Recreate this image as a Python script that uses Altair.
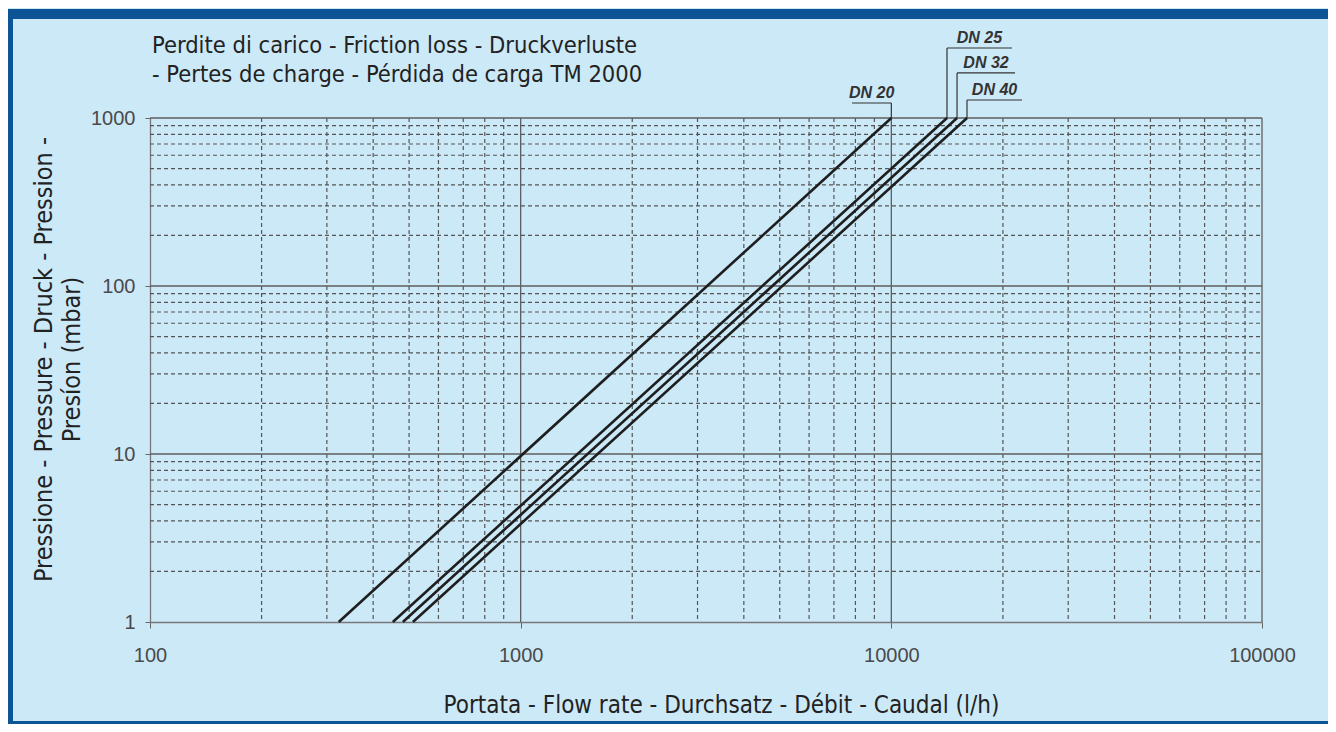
import altair as alt
import pandas as pd

# ---------------- data ----------------
series = ["DN 20", "DN 25", "DN 32", "DN 40"]
flow_start = [323, 452, 481, 512]          # l/h at 1 mbar
flow_end = [10000, 14130, 15040, 16000]    # l/h at 1000 mbar
press_start = [1, 1, 1, 1]
press_end = [1000, 1000, 1000, 1000]

label_left = [7834, 14130, 15040, 16000]
label_right = [10000, 21160, 21560, 22520]
label_y = [1228, 2610, 1854, 1280]

x_ticks = [100, 1000, 10000, 100000]
y_ticks = [1, 10, 100, 1000]
x_minor = [200, 300, 400, 500, 600, 700, 800, 900,
           2000, 3000, 4000, 5000, 6000, 7000, 8000, 9000,
           20000, 30000, 40000, 50000, 60000, 70000, 80000, 90000]
y_minor = [2, 3, 4, 5, 6, 7, 8, 9, 20, 30, 40, 50, 60, 70, 80, 90,
           200, 300, 400, 500, 600, 700, 800, 900]
x_major = [1000, 10000, 100000]
y_major = [10, 100, 1000]

title_lines = ["Perdite di carico - Friction loss - Druckverluste",
               "- Pertes de charge - Pérdida de carga TM 2000"]
x_title = "Portata - Flow rate - Durchsatz - Débit - Caudal (l/h)"
y_title = ["Pressione - Pressure - Druck - Pression -", "Presíon (mbar)"]

# ---------------- tables ----------------
rows = []
for s, f0, f1, p0, p1 in zip(series, flow_start, flow_end, press_start, press_end):
    rows.append({"series": s, "flow": f0, "pressure": p0})
    rows.append({"series": s, "flow": f1, "pressure": p1})
lines_df = pd.DataFrame(rows)

labels_df = pd.DataFrame({
    "series": series, "end": flow_end, "top": press_end,
    "left": label_left, "right": label_right, "ly": label_y,
})

W, H = 1112, 504
PAD_L, PAD_T, PAD_R, PAD_B = 142, 110, 66, 102

COND = "DejaVu Sans Condensed, Liberation Sans Narrow, sans-serif"
SANS = "Liberation Sans, Arial, Helvetica, sans-serif"
BG = "#cce9f8"
BLUE = "#0d5496"

xs = alt.Scale(type="log", domain=[100, 100000], nice=False)
ys = alt.Scale(type="log", domain=[1, 1000], nice=False)

x_axis = alt.Axis(
    values=x_ticks, format="d", grid=False, tickSize=6, tickColor="#666",
    domainColor="#777", domainWidth=1.3, labelFontSize=20, labelFont=SANS,
    labelColor="#4a4a4a", labelPadding=17, labelFlush=False,
    title=x_title, titleFont=COND, titleFontSize=24, titleFontWeight="normal",
    titleColor="#222", titleX=571, titleY=83, titleBaseline="middle",
    titleAlign="center")
y_axis = alt.Axis(
    values=y_ticks, format="d", grid=False, tickSize=5, tickColor="#666",
    domainColor="#777", domainWidth=1.3, labelFontSize=20, labelFont=SANS,
    labelColor="#4a4a4a", labelPadding=10, labelFlush=False,
    title=y_title, titleFont=COND, titleFontSize=25, titleFontWeight="normal",
    titleColor="#222", titleX=-107, titleY=241, titleBaseline="middle",
    titleAlign="center", titleLineHeight=28, titleAngle=270)

grid_minor_x = alt.Chart(pd.DataFrame({"v": x_minor})).mark_rule(
    color="#555", strokeDash=[4, 3], strokeWidth=1.2
).encode(x=alt.X("v:Q", scale=xs, axis=x_axis), y=alt.value(0), y2=alt.value(H))

grid_minor_y = alt.Chart(pd.DataFrame({"v": y_minor})).mark_rule(
    color="#555", strokeDash=[4, 3], strokeWidth=1.2
).encode(y=alt.Y("v:Q", scale=ys, axis=y_axis), x=alt.value(0), x2=alt.value(W))

grid_major_x = alt.Chart(pd.DataFrame({"v": x_major})).mark_rule(
    color="#5e5e5e", strokeWidth=1.3
).encode(x=alt.X("v:Q", scale=xs, axis=x_axis), y=alt.value(0), y2=alt.value(H))

grid_major_y = alt.Chart(pd.DataFrame({"v": y_major})).mark_rule(
    color="#5e5e5e", strokeWidth=1.3
).encode(y=alt.Y("v:Q", scale=ys, axis=y_axis), x=alt.value(0), x2=alt.value(W))

lines = alt.Chart(lines_df).mark_line(color="#1e1e1e", strokeWidth=2.6).encode(
    x=alt.X("flow:Q", scale=xs, axis=x_axis),
    y=alt.Y("pressure:Q", scale=ys, axis=y_axis),
    detail="series:N",
)

leader_v = alt.Chart(labels_df).mark_rule(color="#333", strokeWidth=1.2).encode(
    x=alt.X("end:Q", scale=xs, axis=x_axis),
    y=alt.Y("top:Q", scale=ys, axis=y_axis),
    y2="ly:Q",
)
leader_h = alt.Chart(labels_df).mark_rule(color="#333", strokeWidth=1.2).encode(
    x=alt.X("left:Q", scale=xs, axis=x_axis),
    x2="right:Q",
    y=alt.Y("ly:Q", scale=ys, axis=y_axis),
)
label_text = alt.Chart(labels_df).transform_calculate(
    cx="sqrt(datum.left * datum.right)"
).mark_text(
    font=SANS, fontSize=16, fontStyle="italic", fontWeight="bold",
    color="#333", baseline="bottom", align="center", dy=-2
).encode(
    x=alt.X("cx:Q", scale=xs, axis=x_axis),
    y=alt.Y("ly:Q", scale=ys, axis=y_axis),
    text="series:N",
)

title_text = alt.Chart(pd.DataFrame({"t": [0]})).mark_text(
    text=title_lines, font=COND, fontSize=23.5, lineHeight=29, color="#222",
    align="left", baseline="top"
).encode(x=alt.value(2), y=alt.value(-84))

frame_top = alt.Chart(pd.DataFrame({"t": [0]})).mark_rect(color=BLUE).encode(
    x=alt.value(-PAD_L), x2=alt.value(W + PAD_R), y=alt.value(-PAD_T + 1), y2=alt.value(-PAD_T + 11)
)
frame_left = alt.Chart(pd.DataFrame({"t": [0]})).mark_rect(color=BLUE).encode(
    x=alt.value(-PAD_L), x2=alt.value(-PAD_L + 5), y=alt.value(-PAD_T + 1), y2=alt.value(H + PAD_B)
)
frame_bottom = alt.Chart(pd.DataFrame({"t": [0]})).mark_rect(color=BLUE).encode(
    x=alt.value(-PAD_L), x2=alt.value(W + PAD_R), y=alt.value(H + PAD_B - 3), y2=alt.value(H + PAD_B)
)

chart = alt.layer(
    grid_minor_x, grid_minor_y, grid_major_x, grid_major_y,
    lines, leader_v, leader_h, label_text, title_text,
    frame_top, frame_left, frame_bottom,
).properties(
    width=W, height=H,
    autosize=alt.AutoSizeParams(type="none"),
    padding={"left": PAD_L, "top": PAD_T, "right": PAD_R, "bottom": PAD_B},
    background=BG,
).configure_view(stroke=None)

chart.save("out.html", embed_options={"renderer": "svg", "actions": False})
